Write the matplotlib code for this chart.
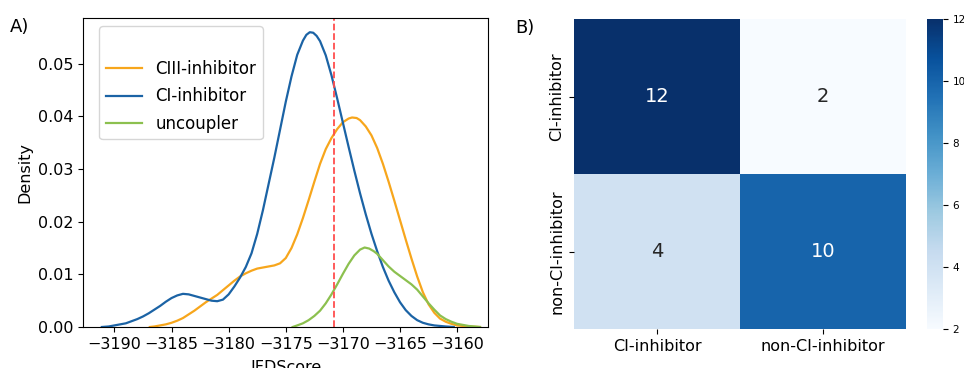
import numpy as np
import matplotlib
matplotlib.use("Agg")
import matplotlib.pyplot as plt
import seaborn as sns

# density curves (x = IFDScore, y = density)
ci_x = [-3191.1, -3190.5, -3190, -3189.5, -3189, -3188.5, -3188, -3187.5, -3187, -3186.5, -3186,
        -3185.5, -3185, -3184.5, -3184, -3183.5, -3183, -3182.5, -3182, -3181.5, -3181, -3180.5,
        -3180, -3179.5, -3179, -3178.5, -3178, -3177.5, -3177, -3176.5, -3176, -3175.5, -3175,
        -3174.5, -3174, -3173.5, -3173.2, -3172.9, -3172.6, -3172.3, -3172, -3171.5, -3171,
        -3170.5, -3170, -3169.5, -3169, -3168.5, -3168, -3167.5, -3167, -3166.5, -3166, -3165.5,
        -3165, -3164.5, -3164, -3163.5, -3163, -3162.5, -3162, -3161, -3160.3]
ci_y = [0.0, 0.0001, 0.0003, 0.0005, 0.0007, 0.0011, 0.0015, 0.0020, 0.0026, 0.0033, 0.0040,
        0.0048, 0.0055, 0.0060, 0.0063, 0.0062, 0.0059, 0.0056, 0.0053, 0.0050, 0.0049, 0.0052,
        0.0062, 0.0077, 0.0094, 0.0114, 0.0140, 0.0177, 0.0222, 0.0272, 0.0322, 0.0375, 0.0428,
        0.0476, 0.0517, 0.0544, 0.0555, 0.0560, 0.0559, 0.0553, 0.0543, 0.0516, 0.0478,
        0.0434, 0.0388, 0.0342, 0.0297, 0.0254, 0.0214, 0.0177, 0.0144, 0.0114, 0.0088, 0.0066,
        0.0047, 0.0032, 0.0021, 0.0013, 0.0008, 0.0005, 0.0003, 0.0001, 0.0]

ciii_x = [-3186.9, -3186.5, -3186, -3185.5, -3185, -3184.5, -3184, -3183.5, -3183, -3182.5, -3182,
          -3181.5, -3181, -3180.5, -3180, -3179.5, -3179, -3178.5, -3178, -3177.5, -3177, -3176.5,
          -3176, -3175.5, -3175, -3174.5, -3174, -3173.5, -3173, -3172.5, -3172, -3171.5, -3171,
          -3170.5, -3170, -3169.5, -3169.2, -3168.8, -3168.5, -3168, -3167.5, -3167, -3166.5, -3166,
          -3165.5, -3165, -3164.5, -3164, -3163.5, -3163, -3162.5, -3162, -3161.5, -3161, -3160.5,
          -3160, -3159, -3158]
ciii_y = [0.0, 0.0001, 0.0003, 0.0005, 0.0008, 0.0012, 0.0017, 0.0024, 0.0031, 0.0039, 0.0047,
          0.0054, 0.0061, 0.0070, 0.0079, 0.0088, 0.0096, 0.0102, 0.0107, 0.0111, 0.0113, 0.0115,
          0.0117, 0.0121, 0.0131, 0.0150, 0.0176, 0.0207, 0.0241, 0.0276, 0.0310, 0.0338, 0.0359,
          0.0376, 0.0389, 0.0396, 0.0398, 0.0397, 0.0393, 0.0381, 0.0364, 0.0340, 0.0310, 0.0276,
          0.0240, 0.0203, 0.0166, 0.0130, 0.0096, 0.0066, 0.0043, 0.0027, 0.0016, 0.0010, 0.0006,
          0.0003, 0.0001, 0.0]

unc_x = [-3174.4, -3174, -3173.5, -3173, -3172.5, -3172, -3171.5, -3171, -3170.5, -3170, -3169.5,
         -3169, -3168.5, -3168.1, -3167.7, -3167.3, -3167, -3166.5, -3166, -3165.5, -3165, -3164.5,
         -3164, -3163.5, -3163, -3162.5, -3162, -3161.5, -3161, -3160.5, -3160, -3159.5, -3159, -3158]
unc_y = [0.0, 0.0003, 0.0007, 0.0013, 0.0021, 0.0031, 0.0045, 0.0062, 0.0081, 0.0101, 0.0120,
         0.0136, 0.0147, 0.0151, 0.0149, 0.0144, 0.0139, 0.0127, 0.0115, 0.0105, 0.0097, 0.0089,
         0.0081, 0.0071, 0.0058, 0.0045, 0.0033, 0.0022, 0.0015, 0.0010, 0.0006, 0.0004, 0.0002, 0.0]

threshold = -3170.75

# confusion matrix
cm_labels = ["CI-inhibitor", "non-CI-inhibitor"]
cm_values = [[12, 2], [4, 10]]

plt.rcParams["font.family"] = ["DejaVu Sans"]

fig = plt.figure(figsize=(9.64, 3.68), dpi=100)
ax1 = fig.add_axes([83 / 964, 1 - 327 / 368, 405 / 964, 309 / 368])
ax2 = fig.add_axes([574 / 964, 1 - 329 / 368, 332 / 964, 310 / 368])
cax = fig.add_axes([927 / 964, 1 - 329 / 368, 16 / 964, 310 / 368])

ax1.plot(ciii_x, ciii_y, color="#f7a61c", lw=1.6, label="CIII-inhibitor")
ax1.plot(ci_x, ci_y, color="#1b63a5", lw=1.6, label="CI-inhibitor")
ax1.plot(unc_x, unc_y, color="#8cc04f", lw=1.6, label="uncoupler")
ax1.axvline(threshold, color="#ff4d4d", ls="--", lw=1.3)
ax1.set_xlim(-3192.75, -3157.3)
ax1.set_ylim(0, 0.0587)
ax1.set_xticks([-3190, -3185, -3180, -3175, -3170, -3165, -3160])
ax1.set_yticks([0.0, 0.01, 0.02, 0.03, 0.04, 0.05])
ax1.set_yticklabels(["0.00", "0.01", "0.02", "0.03", "0.04", "0.05"])
ax1.tick_params(labelsize=11.5)
ax1.set_xlabel("IFDScore", fontsize=11.5, labelpad=6)
ax1.set_ylabel("Density", fontsize=11.5)
leg = ax1.legend(loc="upper left", fontsize=12, title=" ", title_fontsize=12,
                 borderpad=0.4, labelspacing=0.55, handlelength=2.15,
                 bbox_to_anchor=(0.02, 1.0))
fig.text(10 / 964, 1 - 32 / 368, "A)", fontsize=13)

sns.heatmap(np.array(cm_values), ax=ax2, cbar_ax=cax, cmap="Blues", annot=True,
            annot_kws={"fontsize": 14}, xticklabels=cm_labels, yticklabels=cm_labels,
            vmin=2, vmax=12)
ax2.tick_params(labelsize=11.5)
cax.tick_params(labelsize=7.5)
cax.set_yticks([2, 4, 6, 8, 10, 12])
fig.text(515 / 964, 1 - 33 / 368, "B)", fontsize=13)

fig.savefig("out.png", dpi=100)
